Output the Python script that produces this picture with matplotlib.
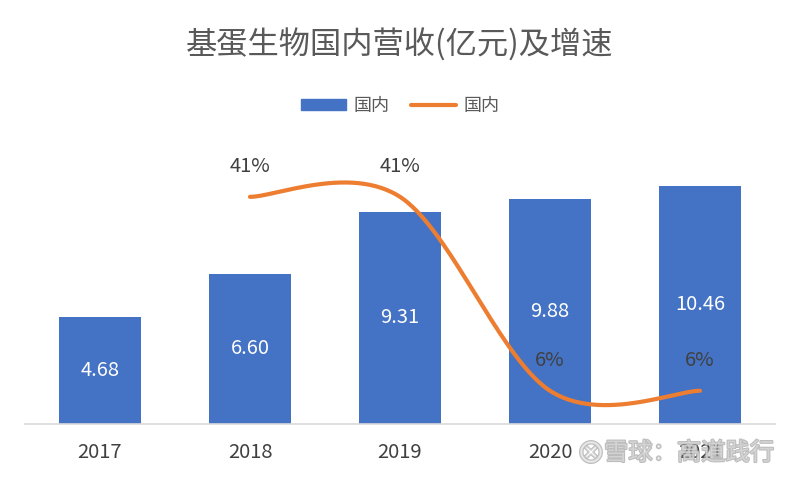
import numpy as np
import matplotlib
matplotlib.use("Agg")
import matplotlib.pyplot as plt
import matplotlib.patheffects as pe
from matplotlib.lines import Line2D
from matplotlib.patches import Patch

plt.rcParams['font.family'] = ['Noto Sans CJK SC', 'DejaVu Sans']

years = ['2017', '2018', '2019', '2020', '2021']
revenue = [4.68, 6.60, 9.31, 9.88, 10.46]
growth_years = ['2018', '2019', '2020', '2021']
growth = [0.41, 0.41, 0.06, 0.06]
title = '基蛋生物国内营收(亿元)及增速'
bar_name = '国内'
line_name = '国内'
watermark = '雪球：高道践行'

BAR_C = '#4472C4'
LINE_C = '#ED7D31'
TXT = '#404040'

fig = plt.figure(figsize=(8, 4.79), dpi=100)
ax = fig.add_axes([25/800, 55/479, 750/800, 284/479])
x = np.arange(len(years))
ax.bar(x, revenue, width=0.55, color=BAR_C, zorder=2)
ax.set_xlim(-0.5, len(years) - 0.5)
ax.set_ylim(0, 12.46)
for xi, v in zip(x, revenue):
    ax.text(xi, v / 2, f'{v:.2f}', ha='center', va='center', color='white', fontsize=14.5, zorder=3)

ax2 = ax.twinx()
ax2.set_ylim(0, 0.5126)
ax2.set_axis_off()

ax.set_xticks(x)
ax.set_xticklabels(years, fontsize=14.5, color=TXT)
ax.tick_params(axis='x', length=0, pad=13)
ax.set_yticks([])
ax.tick_params(axis='y', left=False, right=False, labelleft=False, labelright=False)
for s in ['top', 'right', 'left']:
    ax.spines[s].set_visible(False)
ax.spines['bottom'].set_color('#D9D9D9')
ax.spines['bottom'].set_linewidth(1.2)

gx = np.array([years.index(y) for y in growth_years], dtype=float)
gy = np.array(growth, dtype=float)
P = np.column_stack([gx, gy])
n = len(P)
curve = []
t = np.linspace(0, 1, 60)[:, None]
for i in range(n - 1):
    p0 = P[i - 1] if i > 0 else P[i]
    p1 = P[i]
    p2 = P[i + 1]
    p3 = P[i + 2] if i + 2 < n else P[i + 1]
    c1 = p1 + (p2 - p0) / 6
    c2 = p2 - (p3 - p1) / 6
    seg = (1 - t) ** 3 * p1 + 3 * (1 - t) ** 2 * t * c1 + 3 * (1 - t) * t ** 2 * c2 + t ** 3 * p2
    curve.append(seg)
curve = np.vstack(curve)
ax2.plot(curve[:, 0], curve[:, 1], color=LINE_C, lw=3, solid_capstyle='round', zorder=4)
for xi, v in zip(gx, gy):
    ax2.annotate(f'{v:.0%}', (xi, v), xytext=(0, 22), textcoords='offset points',
                 ha='center', va='center', fontsize=14.5, color=TXT)

fig.text(0.5, 1 - 45/479, title, ha='center', va='center', fontsize=22.5, color='#595959')

handles = [Patch(facecolor=BAR_C, edgecolor=BAR_C),
           Line2D([0], [0], color=LINE_C, lw=3, solid_capstyle='round')]
fig.legend(handles, [bar_name, line_name], loc='center', bbox_to_anchor=(0.5, 1 - 106/479),
           ncol=2, frameon=False, fontsize=13, labelcolor='#595959',
           handlelength=2.5, handleheight=0.6, columnspacing=1.2, handletextpad=0.4)

fig.text(604/800, 1 - 453/479, watermark, ha='left', va='center', fontsize=17.5, color='white',
         alpha=0.35, path_effects=[pe.withStroke(linewidth=1.5, foreground='#A0A0A0', alpha=0.7)])
fig.text(591/800, 1 - 453/479, '⊗', ha='center', va='center', fontsize=24, color='white',
         alpha=0.5, family=['DejaVu Sans'],
         path_effects=[pe.withStroke(linewidth=1.5, foreground='#A0A0A0', alpha=0.7)])

fig.savefig('out.png', dpi=100, facecolor='white')
